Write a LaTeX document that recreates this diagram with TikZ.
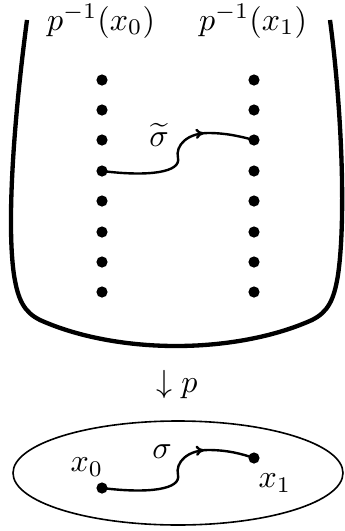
\documentclass[tikz,border=0pt]{standalone}
\usetikzlibrary{decorations.markings,arrows.meta}
\begin{document}
\begin{tikzpicture}[x=0.3125pt,y=-0.3125pt,
  dot/.style={circle,fill=black,inner sep=0pt,minimum size=3.5pt},
  lbl/.style={inner sep=0pt},
  pathline/.style={line width=0.75pt,
    postaction={decorate,decoration={markings,mark=at position 0.71 with {\arrow{To[length=2.6pt,width=3.2pt]}}}}},
  box/.style={line width=1.35pt},
  rim/.style={line width=0.5pt}]
\useasboundingbox (0,0) rectangle (345,531);
% container
\draw[box] (27,20) .. controls (15,110) and (6,220) .. (14,275)
  .. controls (18,300) and (24,312) .. (40,320)
  .. controls (80,338) and (130,346) .. (176,346)
  .. controls (222,346) and (272,338) .. (312,320)
  .. controls (328,312) and (334,300) .. (338,275)
  .. controls (346,220) and (342,110) .. (330,20);
% labels
\node[lbl] (L0) at (101,21) {$p^{-1}(x_0)$};
\node[lbl] (L1) at (253,21) {$p^{-1}(x_1)$};
% fibre dots
\foreach \i/\y in {1/80,2/110,3/140,4/171,5/201,6/232,7/262,8/292}{
  \node[dot] (a\i) at (102,\y) {};
  \node[dot] (b\i) at (254,\y) {};
}
% lifted path
\draw[pathline] (a4.center) .. controls (150,177) and (181,172) .. (178,158)
  .. controls (175,145) and (188,133) .. (208,133)
  .. controls (228,133) and (242,137) .. (b3.center);
\node[lbl] (st) at (159,135) {$\widetilde{\sigma}$};
% projection
\node[lbl] (pr) at (177,384) {$\downarrow p$};
% base
\draw[rim] (178,473) ellipse [x radius=165, y radius=52];
\node[dot] (x0) at (102,488) {};
\node[dot] (x1) at (254,458) {};
\draw[pathline] (x0.center) .. controls (150,494) and (181,489) .. (178,475)
  .. controls (175,462) and (188,450) .. (208,450)
  .. controls (228,450) and (242,454) .. (x1.center);
\node[lbl] (s) at (162,452) {$\sigma$};
\node[lbl] (lx0) at (87,467) {$x_0$};
\node[lbl] (lx1) at (275,483) {$x_1$};
\end{tikzpicture}
\end{document}
